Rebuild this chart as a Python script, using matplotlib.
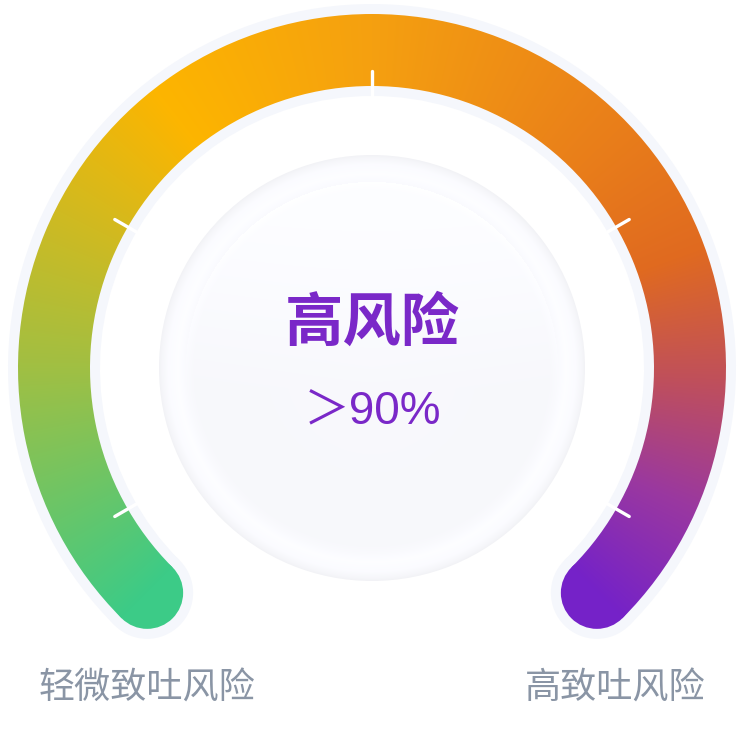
import numpy as np
import matplotlib.pyplot as plt
from matplotlib.patches import Wedge, Circle
from matplotlib.colors import to_rgb

plt.rcParams['font.family'] = ['Noto Sans CJK SC', 'DejaVu Sans']

# gauge data
risk_label = "高风险"
risk_value = "＞90%"
end_labels = ["轻微致吐风险", "高致吐风险"]
start_angle = 225
end_angle = -45
tick_angles = [210, 150, 90, 30, -30]
stop_pos = [0.0, 0.17, 0.36, 0.5, 0.67, 0.76, 0.84, 0.92, 1.0]
stop_colors = ["#3ccb87", "#a2bf42", "#fdb500", "#f5a010", "#e97e1a",
               "#e06a20", "#c0505a", "#9a38a0", "#7522c8"]

W = 744
cx, cy = 372, 376
r_out, r_in = 354, 282
r_mid = (r_out + r_in) / 2
half = (r_out - r_in) / 2
halo = 10

fig = plt.figure(figsize=(7.44, 7.44), dpi=100)
ax = fig.add_axes([0, 0, 1, 1])
ax.set_xlim(0, W)
ax.set_ylim(0, W)
ax.set_aspect('equal')
ax.axis('off')

xs = np.arange(W) + 0.5
X, Y = np.meshgrid(xs, xs)
R = np.hypot(X - cx, Y - cy)
th = np.degrees(np.arctan2(Y - cy, X - cx))
th = np.where(th < -90, th + 360, th)
t = np.clip((start_angle - th) / (start_angle - end_angle), 0, 1)

rgb = np.array([to_rgb(c) for c in stop_colors])
grad = np.dstack([np.interp(t, stop_pos, rgb[:, k]) for k in range(3)])

# halo behind the band
halo_col = "#f5f7fc"
ax.add_patch(Wedge((cx, cy), r_out + halo, end_angle, start_angle,
                   width=r_out - r_in + 2 * halo, color=halo_col, lw=0, zorder=1))
ends = []
for a in (start_angle, end_angle):
    ex = cx + r_mid * np.cos(np.radians(a))
    ey = cy + r_mid * np.sin(np.radians(a))
    ends.append((ex, ey))
    ax.add_patch(Circle((ex, ey), half + halo, color=halo_col, lw=0, zorder=1))

# coloured band with round caps
clips = [Wedge((cx, cy), r_out, end_angle, start_angle, width=r_out - r_in,
               transform=ax.transData)]
clips += [Circle(e, half, transform=ax.transData) for e in ends]
for cp in clips:
    im = ax.imshow(grad, extent=(0, W, 0, W), origin='lower', zorder=2,
                   interpolation='bilinear')
    im.set_clip_path(cp)

# tick marks
for a in tick_angles:
    c, s = np.cos(np.radians(a)), np.sin(np.radians(a))
    ax.plot([cx + 272 * c, cx + 297 * c], [cy + 272 * s, cy + 297 * s],
            color='white', lw=2.4, solid_capstyle='round', zorder=3)

# inner disk with soft shading
disk_r = 213
prof_r = [0, 178, 186, 194, 204, 210, 213]
prof_v = [0.978, 0.975, 0.984, 0.997, 0.988, 0.968, 0.952]
val = np.interp(R, prof_r, prof_v)
top = np.clip((Y - (cy - 20)) / 170, 0, 1) * (R < 186)
val = val + 0.02 * top
disk = np.dstack([val - 0.004, val - 0.002, val + 0.012])
disk = np.clip(disk, 0, 1)
im = ax.imshow(disk, extent=(0, W, 0, W), origin='lower', zorder=1,
               interpolation='bilinear')
im.set_clip_path(Circle((cx, cy), disk_r, transform=ax.transData))

purple = "#7a28c8"
ax.text(cx, W - 324, risk_label, ha='center', va='center', fontsize=42,
        fontweight='bold', color=purple, zorder=4)
ax.text(cx, W - 412, risk_value, ha='center', va='center', fontsize=33,
        color=purple, zorder=4, family=['Liberation Sans', 'Noto Sans CJK SC'])
ax.text(147, W - 689, end_labels[0], ha='center', va='center', fontsize=26,
        color="#8a95a5")
ax.text(615, W - 689, end_labels[1], ha='center', va='center', fontsize=26,
        color="#8a95a5")

fig.savefig("out.png", dpi=100, facecolor='white')
